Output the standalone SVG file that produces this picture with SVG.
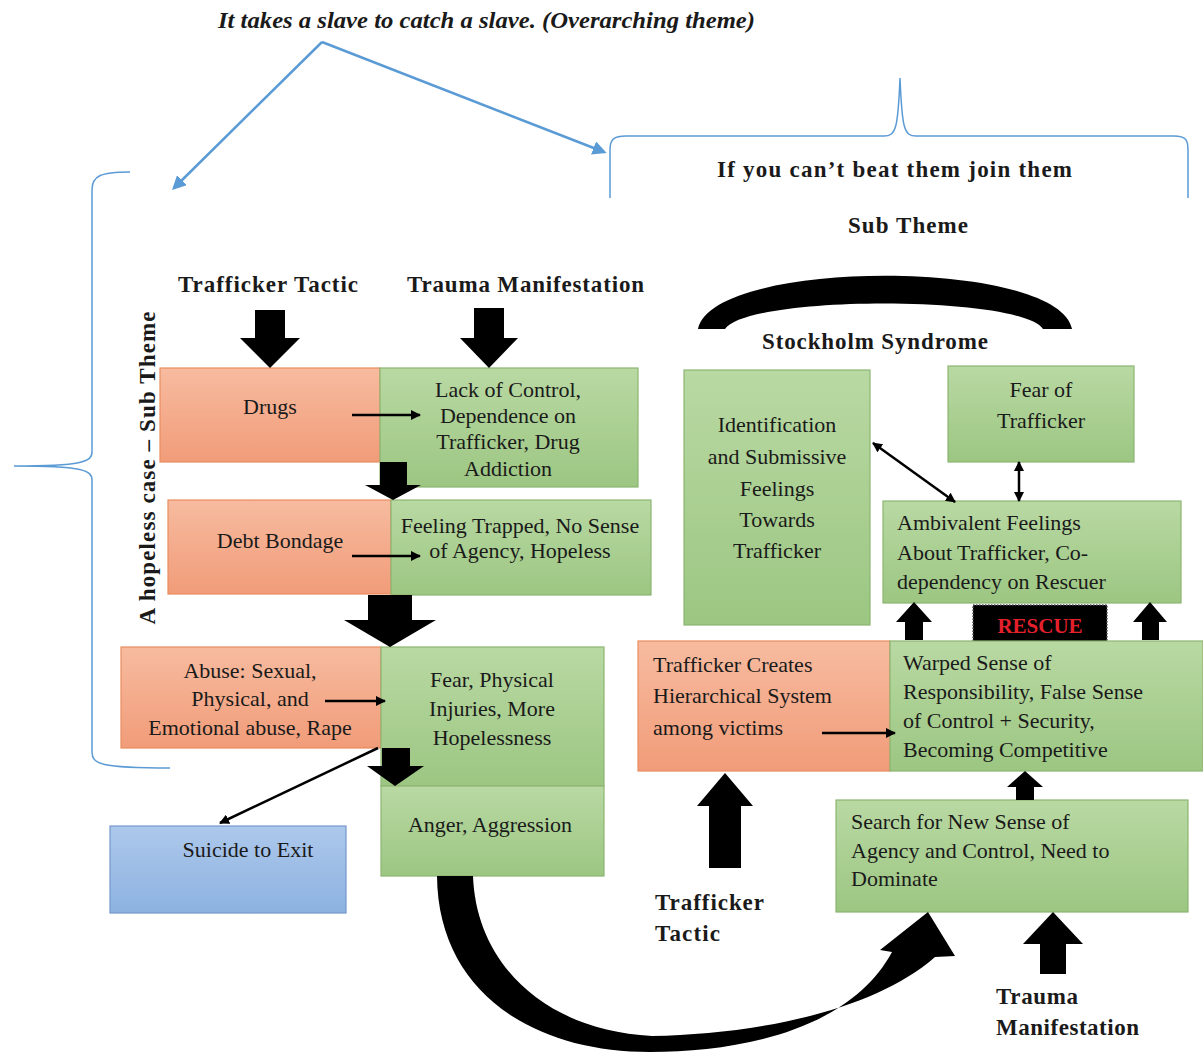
<svg xmlns="http://www.w3.org/2000/svg" width="1203" height="1052" viewBox="0 0 1203 1052">
  <defs>
    <linearGradient id="gOrange" x1="0" y1="0" x2="0" y2="1">
      <stop offset="0" stop-color="#f7bb9f"/>
      <stop offset="1" stop-color="#f19c79"/>
    </linearGradient>
    <linearGradient id="gGreen" x1="0" y1="0" x2="0" y2="1">
      <stop offset="0" stop-color="#b9d9a3"/>
      <stop offset="1" stop-color="#9cc682"/>
    </linearGradient>
    <linearGradient id="gBlue" x1="0" y1="0" x2="0" y2="1">
      <stop offset="0" stop-color="#adc8ec"/>
      <stop offset="1" stop-color="#8db2e0"/>
    </linearGradient>
    <marker id="ah" viewBox="0 0 10 10" refX="9" refY="5" markerWidth="10" markerHeight="10" markerUnits="userSpaceOnUse" orient="auto-start-reverse">
      <path d="M0,0 L10,5 L0,10 Z" fill="#000"/>
    </marker>
    <marker id="ahBlue" viewBox="0 0 10 10" refX="8" refY="5" markerWidth="14" markerHeight="14" markerUnits="userSpaceOnUse" orient="auto">
      <path d="M0,0 L10,5 L0,10 Z" fill="#5b9bd5"/>
    </marker>
  </defs>
  <style>
    .orange { fill: url(#gOrange); stroke: #e98d60; stroke-width: 1.2; }
    .green { fill: url(#gGreen); stroke: #8db572; stroke-width: 1.2; }
    .blue { fill: url(#gBlue); stroke: #7398cb; stroke-width: 1.2; }
    .t { font-family: "Liberation Serif", "Times New Roman", serif; font-size: 22px; fill: #1a1a1a; }
    .c { text-anchor: middle; }
    .b { font-family: "Liberation Serif", "Times New Roman", serif; font-weight: bold; font-size: 23px; fill: #1a1a1a; }
    .brace { fill: none; stroke: #5b9bd5; stroke-width: 1.5; }
    .thin { fill: none; stroke: #000; stroke-width: 2.5; }
    .block { fill: #000; }
  </style>

  <rect width="1203" height="1052" fill="#fff"/>

  <!-- headings -->
  <text x="218" y="28" font-family="'Liberation Serif', 'Times New Roman', serif" font-weight="bold" font-style="italic" font-size="24" fill="#1a1a1a" textLength="537" lengthAdjust="spacingAndGlyphs">It takes a slave to catch a slave. (Overarching theme)</text>
  <text class="b" x="717" y="177" textLength="355" lengthAdjust="spacing">If you can’t beat them join them</text>
  <text class="b" x="848" y="233" textLength="120" lengthAdjust="spacing">Sub Theme</text>
  <text class="b" x="178" y="292" textLength="180" lengthAdjust="spacing">Trafficker Tactic</text>
  <text class="b" x="407" y="292" textLength="237" lengthAdjust="spacing">Trauma Manifestation</text>
  <text class="b" transform="translate(155,468) rotate(-90)" text-anchor="middle" textLength="313" lengthAdjust="spacing">A hopeless case – Sub Theme</text>
  <text class="b" x="762" y="349" textLength="226" lengthAdjust="spacing">Stockholm Syndrome</text>
  <text class="b" x="655" y="910" textLength="109" lengthAdjust="spacing">Trafficker</text>
  <text class="b" x="655" y="941" textLength="65" lengthAdjust="spacing">Tactic</text>
  <text class="b" x="996" y="1004" textLength="82" lengthAdjust="spacing">Trauma</text>
  <text class="b" x="996" y="1035" textLength="143" lengthAdjust="spacing">Manifestation</text>

  <!-- braces -->
  <path class="brace" d="M130,172 C100,172 92,176 92,190 L92,452 C92,462 82,466 14,466 C82,466 92,470 92,480 L92,752 C92,764 100,768 170,768"/>
  <path class="brace" d="M610,198 L610,150 C610,139 614,136 626,136 L884,136 C896,136 898,128 900,78 C902,128 904,136 916,136 L1174,136 C1186,136 1188,140 1188,150 L1188,198"/>

  <!-- nodes -->
  <g id="drugs">
    <rect class="orange" x="160" y="368" width="220" height="94"/>
    <text class="t c" x="270" y="414">Drugs</text>
  </g>
  <g id="lack-of-control">
    <rect class="green" x="380" y="368" width="258" height="119"/>
    <text class="t c" x="508" y="397">Lack of Control,</text>
    <text class="t c" x="508" y="423">Dependence on</text>
    <text class="t c" x="508" y="449">Trafficker, Drug</text>
    <text class="t c" x="508" y="476">Addiction</text>
  </g>
  <g id="debt-bondage">
    <rect class="orange" x="168" y="500" width="223" height="94"/>
    <text class="t c" x="280" y="548">Debt Bondage</text>
  </g>
  <g id="feeling-trapped">
    <rect class="green" x="391" y="500" width="260" height="95"/>
    <text class="t c" x="520" y="533" font-size="19">Feeling Trapped, No Sense</text>
    <text class="t c" x="520" y="558" font-size="19">of Agency, Hopeless</text>
  </g>
  <g id="abuse">
    <rect class="orange" x="121" y="647" width="260" height="101"/>
    <text class="t c" x="250" y="678">Abuse: Sexual,</text>
    <text class="t c" x="250" y="706">Physical, and</text>
    <text class="t c" x="250" y="735">Emotional abuse, Rape</text>
  </g>
  <g id="fear-injuries">
    <rect class="green" x="381" y="647" width="223" height="139"/>
    <text class="t c" x="492" y="687">Fear, Physical</text>
    <text class="t c" x="492" y="716">Injuries, More</text>
    <text class="t c" x="492" y="745">Hopelessness</text>
  </g>
  <g id="anger">
    <rect class="green" x="381" y="786" width="223" height="90"/>
    <text class="t c" x="490" y="832">Anger, Aggression</text>
  </g>
  <g id="suicide">
    <rect class="blue" x="110" y="826" width="236" height="87"/>
    <text class="t c" x="248" y="857">Suicide to Exit</text>
  </g>
  <g id="identification">
    <rect class="green" x="684" y="370" width="186" height="255"/>
    <text class="t c" x="777" y="432">Identification</text>
    <text class="t c" x="777" y="464">and Submissive</text>
    <text class="t c" x="777" y="496">Feelings</text>
    <text class="t c" x="777" y="527">Towards</text>
    <text class="t c" x="777" y="558">Trafficker</text>
  </g>
  <g id="fear-of-trafficker">
    <rect class="green" x="948" y="366" width="186" height="96"/>
    <text class="t c" x="1041" y="397">Fear of</text>
    <text class="t c" x="1041" y="428">Trafficker</text>
  </g>
  <g id="ambivalent">
    <rect class="green" x="883" y="501" width="298" height="102"/>
    <text class="t" x="897" y="530">Ambivalent Feelings</text>
    <text class="t" x="897" y="560">About Trafficker, Co-</text>
    <text class="t" x="897" y="589">dependency on Rescuer</text>
  </g>
  <g id="rescue">
    <rect x="973" y="605" width="134" height="37" fill="#000" stroke="#555" stroke-width="1.5" stroke-dasharray="1.5 1.5"/>
    <text x="1040" y="633" text-anchor="middle" font-family="'Liberation Serif', 'Times New Roman', serif" font-weight="bold" font-size="21" fill="#e3202b">RESCUE</text>
  </g>
  <g id="hierarchical-system">
    <rect class="orange" x="638" y="641" width="252" height="130"/>
    <text class="t" x="653" y="672">Trafficker Creates</text>
    <text class="t" x="653" y="703">Hierarchical System</text>
    <text class="t" x="653" y="735">among victims</text>
  </g>
  <g id="warped-sense">
    <rect class="green" x="890" y="641" width="313" height="130"/>
    <text class="t" x="903" y="670"> Warped Sense of</text>
    <text class="t" x="903" y="699">Responsibility, False Sense</text>
    <text class="t" x="903" y="728">of Control + Security,</text>
    <text class="t" x="903" y="757">Becoming Competitive</text>
  </g>
  <g id="search-agency">
    <rect class="green" x="836" y="800" width="352" height="112"/>
    <text class="t" x="851" y="829">Search for New Sense of</text>
    <text class="t" x="851" y="858">Agency and Control, Need to</text>
    <text class="t" x="851" y="886">Dominate</text>
  </g>

  <!-- connectors -->
  <g id="connectors">
    <!-- overarching theme pointers -->
    <line x1="322" y1="42" x2="174" y2="188" stroke="#5b9bd5" stroke-width="2.5" marker-end="url(#ahBlue)"/>
    <line x1="322" y1="42" x2="604" y2="152" stroke="#5b9bd5" stroke-width="2.5" marker-end="url(#ahBlue)"/>

    <!-- block arrows, left column -->
    <polygon class="block" points="255,310 285,310 285,338 300,338 270,368 240,338 255,338"/>
    <polygon class="block" points="474,308 504,308 504,338 518,338 489,368 460,338 474,338"/>
    <polygon class="block" points="380,462 407,462 407,485 421,485 393,500 365,485 380,485"/>
    <polygon class="block" points="368,595 412,595 412,620 436,620 390,647 344,620 368,620"/>
    <polygon class="block" points="382,748 410,748 410,766 424,766 395,786 367,766 382,766"/>

    <!-- tactic to manifestation -->
    <line class="thin" x1="352" y1="415" x2="420" y2="415" marker-end="url(#ah)"/>
    <line class="thin" x1="352" y1="556" x2="420" y2="556" marker-end="url(#ah)"/>
    <line class="thin" x1="325" y1="701" x2="385" y2="701" marker-end="url(#ah)"/>
    <line class="thin" x1="378" y1="748" x2="220" y2="823" marker-end="url(#ah)"/>
    <line class="thin" x1="822" y1="733" x2="895" y2="733" marker-end="url(#ah)"/>

    <!-- Stockholm links -->
    <line class="thin" x1="873" y1="443" x2="955" y2="502" marker-start="url(#ah)" marker-end="url(#ah)"/>
    <line class="thin" x1="1019" y1="462" x2="1019" y2="501" marker-start="url(#ah)" marker-end="url(#ah)"/>

    <!-- Stockholm Syndrome arc -->
    <path class="block" d="M698,329 C712,258 1058,258 1072,329 L1043,329 C1020,295 748,295 725,329 Z"/>

    <!-- block arrows, right column -->
    <polygon class="block" points="905,640 923,640 923,622 932,622 914,602 896,622 905,622"/>
    <polygon class="block" points="1142,640 1159,640 1159,622 1167,622 1150,602 1133,622 1142,622"/>
    <polygon class="block" points="1016,800 1034,800 1034,787 1043,787 1025,771 1007,787 1016,787"/>
    <polygon class="block" points="709,868 741,868 741,806 753,806 725,773 697,806 709,806"/>
    <polygon class="block" points="1040,974 1066,974 1066,944 1083,944 1053,912 1023,944 1040,944"/>

    <!-- return arrow from anger to search -->
    <path class="block" d="M437,876 L473,876 C476,960 540,1030 652,1036 C760,1034 875,1010 935,957 L955,956 L928,912 L880,950 L892,952 C850,1030 740,1052 650,1052 C530,1052 438,990 437,876 Z"/>
  </g>
</svg>
